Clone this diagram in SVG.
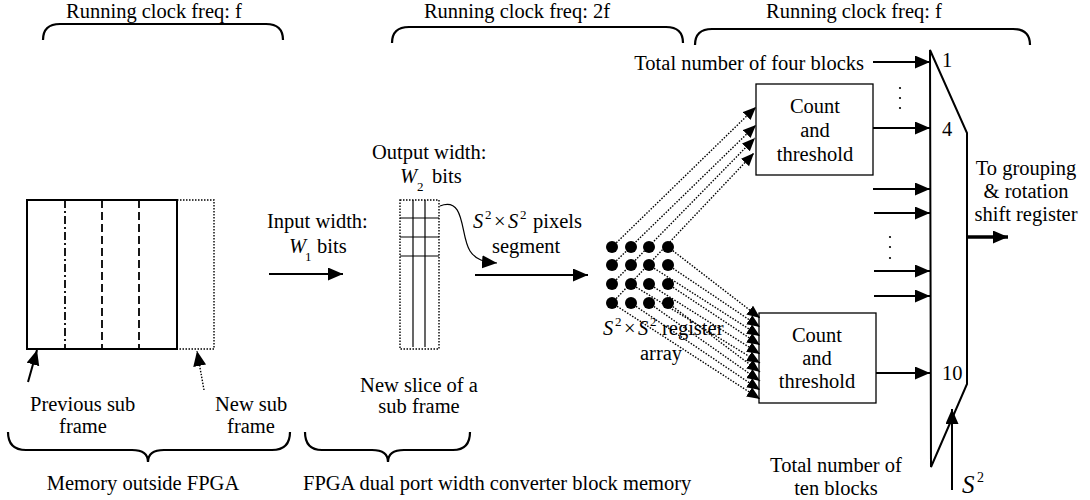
<svg xmlns="http://www.w3.org/2000/svg" width="1090" height="500" viewBox="0 0 1090 500">
  <defs>
    <style>
      text { font-family: "Liberation Serif", "Times New Roman", serif; font-size: 20.5px; fill: #000; }
      .mid { text-anchor: middle; }
      .end { text-anchor: end; }
      .it { font-style: italic; }
      .sub { font-size: 13px; }
      .brace { fill: none; stroke: #000; stroke-width: 2.2; }
      .box { fill: #fff; stroke: #000; stroke-width: 1.3; }
      .wire { fill: none; stroke: #000; stroke-width: 2; }
      .dots { fill: none; stroke: #000; stroke-width: 1.4; stroke-dasharray: 1.5 1.5; }
      .thin { fill: none; stroke: #000; stroke-width: 1.2; }
    </style>
    <marker id="ah" markerUnits="userSpaceOnUse" markerWidth="16" markerHeight="14" refX="15" refY="6.5" orient="auto">
      <path d="M0,0 L15,6.5 L0,13 Z" fill="#000"/>
    </marker>
    <marker id="ahs" markerUnits="userSpaceOnUse" markerWidth="14" markerHeight="12" refX="13" refY="5.5" orient="auto">
      <path d="M0,0 L13,5.5 L0,11 Z" fill="#000"/>
    </marker>
  </defs>

  <!-- clock domain braces -->
  <g id="clock-domains">
    <path class="brace" d="M43,40 Q43,24 60,24 L266,24 Q283,24 283,40"/>
    <text class="mid" x="154" y="18">Running clock freq: f</text>
    <path class="brace" d="M392,43 Q392,27 409,27 L666,27 Q683,27 683,43"/>
    <text class="mid" x="517" y="18">Running clock freq: 2f</text>
    <path class="brace" d="M695,45 Q695,29 712,29 L1013,29 Q1030,29 1030,45"/>
    <text class="mid" x="854" y="18">Running clock freq: f</text>
  </g>

  <!-- external memory holding the sub frames -->
  <g id="memory-outside">
    <rect x="27" y="200" width="150" height="149" fill="none" stroke="#000" stroke-width="2"/>
    <line x1="65" y1="200" x2="65" y2="349" stroke="#000" stroke-width="1.8" stroke-dasharray="8 3 2 3"/>
    <line x1="102" y1="200" x2="102" y2="349" stroke="#000" stroke-width="1.8" stroke-dasharray="8 4"/>
    <line x1="139" y1="200" x2="139" y2="349" stroke="#000" stroke-width="1.8" stroke-dasharray="8 4"/>
    <path class="dots" d="M177,200 L214,200 L214,349 L177,349"/>
    <text x="30" y="411">Previous sub</text>
    <text class="mid" x="83" y="433">frame</text>
    <text x="215" y="411">New sub</text>
    <text class="mid" x="251" y="433">frame</text>
    <path class="brace" d="M8,432 Q8,450 26,450 L132,450 Q148,450 148,462 Q148,450 164,450 L272,450 Q290,450 290,432"/>
    <text class="mid" x="143" y="490">Memory outside FPGA</text>
  </g>

  <!-- width converter block memory slice -->
  <g id="width-converter">
    <rect x="400" y="200" width="39" height="149" class="dots"/>
    <line class="thin" x1="413" y1="200" x2="413" y2="347"/>
    <line class="thin" x1="425" y1="200" x2="425" y2="347"/>
    <line class="thin" x1="400" y1="218" x2="439" y2="218"/>
    <line class="thin" x1="400" y1="237" x2="439" y2="237"/>
    <line class="thin" x1="400" y1="256" x2="439" y2="256"/>
    <text x="372" y="159">Output width:</text>
    <text class="it" x="400" y="183">W</text><text class="sub" x="417" y="191">2</text><text x="432" y="183">bits</text>
    <text x="267" y="228">Input width:</text>
    <text class="it" x="289" y="253">W</text><text class="sub" x="305" y="261">1</text><text x="317" y="253">bits</text>
    <text class="mid" x="419" y="392">New slice of a</text>
    <text class="mid" x="419" y="413">sub frame</text>
    <path class="brace" d="M305,432 Q305,450 322,450 L372,450 Q388,450 388,462 Q388,450 404,450 L453,450 Q470,450 470,432"/>
    <text x="303" y="490">FPGA dual port width converter block memory</text>
    <text class="it" x="473" y="228">S</text><text class="sub" x="485" y="219">2</text><text x="494" y="228">×</text><text class="it" x="508" y="228">S</text><text class="sub" x="520" y="219">2</text><text x="533" y="228">pixels</text>
    <text x="492" y="253">segment</text>
  </g>

  <!-- register array -->
  <g id="register-array">
    <g fill="#000">
      <circle cx="612" cy="247" r="6"/><circle cx="631" cy="247" r="6"/><circle cx="649" cy="247" r="6"/><circle cx="668" cy="247" r="6"/>
      <circle cx="612" cy="265" r="6"/><circle cx="631" cy="265" r="6"/><circle cx="649" cy="265" r="6"/><circle cx="668" cy="265" r="6"/>
      <circle cx="612" cy="284" r="6"/><circle cx="631" cy="284" r="6"/><circle cx="649" cy="284" r="6"/><circle cx="668" cy="284" r="6"/>
      <circle cx="612" cy="303" r="6"/><circle cx="631" cy="303" r="6"/><circle cx="649" cy="303" r="6"/><circle cx="668" cy="303" r="6"/>
    </g>
    <text class="it" x="603" y="335">S</text><text class="sub" x="615" y="326">2</text><text x="624" y="335">×</text><text class="it" x="638" y="335">S</text><text class="sub" x="650" y="326">2</text><text x="662" y="335">register</text>
    <text x="640" y="360">array</text>
  </g>

  <!-- count and threshold blocks -->
  <g id="count-four">
    <rect class="box" x="756" y="84" width="117" height="91"/>
    <text class="mid" x="815" y="113">Count</text>
    <text class="mid" x="815" y="137">and</text>
    <text class="mid" x="815" y="161">threshold</text>
  </g>
  <g id="count-ten">
    <rect class="box" x="759" y="313" width="117" height="90"/>
    <text class="mid" x="817" y="342">Count</text>
    <text class="mid" x="817" y="365">and</text>
    <text class="mid" x="817" y="388">threshold</text>
  </g>

  <!-- multiplexer -->
  <g id="mux">
    <path d="M930,50 L967,133 L967,384 L931,467 Z" fill="none" stroke="#000" stroke-width="2"/>
    <text x="942" y="67">1</text>
    <text x="942" y="136">4</text>
    <text x="942" y="380">10</text>
    <text class="end" x="864" y="70">Total number of four blocks</text>
    <text class="mid" x="836" y="472">Total number of</text>
    <text class="mid" x="836" y="495">ten blocks</text>
    <text class="it" x="962" y="493" style="font-size:25px">S</text><text x="977" y="482" style="font-size:14px">2</text>
    <text class="mid" x="1026" y="175">To grouping</text>
    <text class="mid" x="1026" y="198">&amp; rotation</text>
    <text class="mid" x="1026" y="221">shift register</text>
    <g fill="#000">
      <circle cx="900" cy="88" r="1.1"/><circle cx="900" cy="98" r="1.1"/><circle cx="900" cy="108" r="1.1"/>
      <circle cx="890" cy="237" r="1.1"/><circle cx="890" cy="247" r="1.1"/><circle cx="890" cy="258" r="1.1"/>
    </g>
  </g>

  <!-- connectors -->
  <g id="connectors">
    <line class="wire" x1="28" y1="382" x2="37" y2="350" marker-end="url(#ah)"/>
    <line class="dots" x1="204" y1="390" x2="197" y2="351" marker-end="url(#ah)"/>
    <line class="wire" x1="269" y1="274" x2="343" y2="274" marker-end="url(#ah)"/>
    <path class="thin" d="M440,206 C466,196 460,236 470,251 C476,260 484,262 497,263" marker-end="url(#ah)"/>
    <line class="wire" x1="475" y1="275" x2="588" y2="275" marker-end="url(#ah)"/>

    <!-- register array to upper block -->
    <line class="dots" x1="612" y1="247" x2="756" y2="107" marker-end="url(#ahs)"/>
    <line class="dots" x1="612" y1="265" x2="756" y2="125" marker-end="url(#ahs)"/>
    <line class="dots" x1="612" y1="284" x2="755" y2="138" marker-end="url(#ahs)"/>
    <line class="dots" x1="612" y1="303" x2="754" y2="153" marker-end="url(#ahs)"/>

    <!-- register array to lower block -->
    <line class="dots" x1="668" y1="247" x2="760" y2="318" marker-end="url(#ahs)"/>
    <line class="dots" x1="668" y1="265" x2="760" y2="327" marker-end="url(#ahs)"/>
    <line class="dots" x1="649" y1="265" x2="760" y2="336" marker-end="url(#ahs)"/>
    <line class="dots" x1="668" y1="284" x2="760" y2="345" marker-end="url(#ahs)"/>
    <line class="dots" x1="649" y1="284" x2="760" y2="354" marker-end="url(#ahs)"/>
    <line class="dots" x1="631" y1="284" x2="760" y2="363" marker-end="url(#ahs)"/>
    <line class="dots" x1="668" y1="303" x2="760" y2="372" marker-end="url(#ahs)"/>
    <line class="dots" x1="649" y1="303" x2="760" y2="381" marker-end="url(#ahs)"/>
    <line class="dots" x1="631" y1="303" x2="760" y2="390" marker-end="url(#ahs)"/>
    <line class="dots" x1="612" y1="303" x2="760" y2="399" marker-end="url(#ahs)"/>

    <!-- block outputs into the multiplexer -->
    <line class="wire" x1="873" y1="62" x2="930" y2="62" marker-end="url(#ah)"/>
    <line class="wire" x1="873" y1="128" x2="930" y2="128" marker-end="url(#ah)"/>
    <line class="wire" x1="873" y1="189" x2="930" y2="189" marker-end="url(#ah)"/>
    <line class="wire" x1="874" y1="213" x2="930" y2="213" marker-end="url(#ah)"/>
    <line class="wire" x1="874" y1="271" x2="930" y2="271" marker-end="url(#ah)"/>
    <line class="wire" x1="874" y1="296" x2="930" y2="296" marker-end="url(#ah)"/>
    <line class="wire" x1="876" y1="373" x2="930" y2="373" marker-end="url(#ah)"/>
    <line class="wire" x1="952" y1="490" x2="952" y2="409" marker-end="url(#ah)"/>
    <line x1="967" y1="237" x2="1008" y2="237" stroke="#000" stroke-width="3.5" marker-end="url(#ah)"/>
  </g>
</svg>
